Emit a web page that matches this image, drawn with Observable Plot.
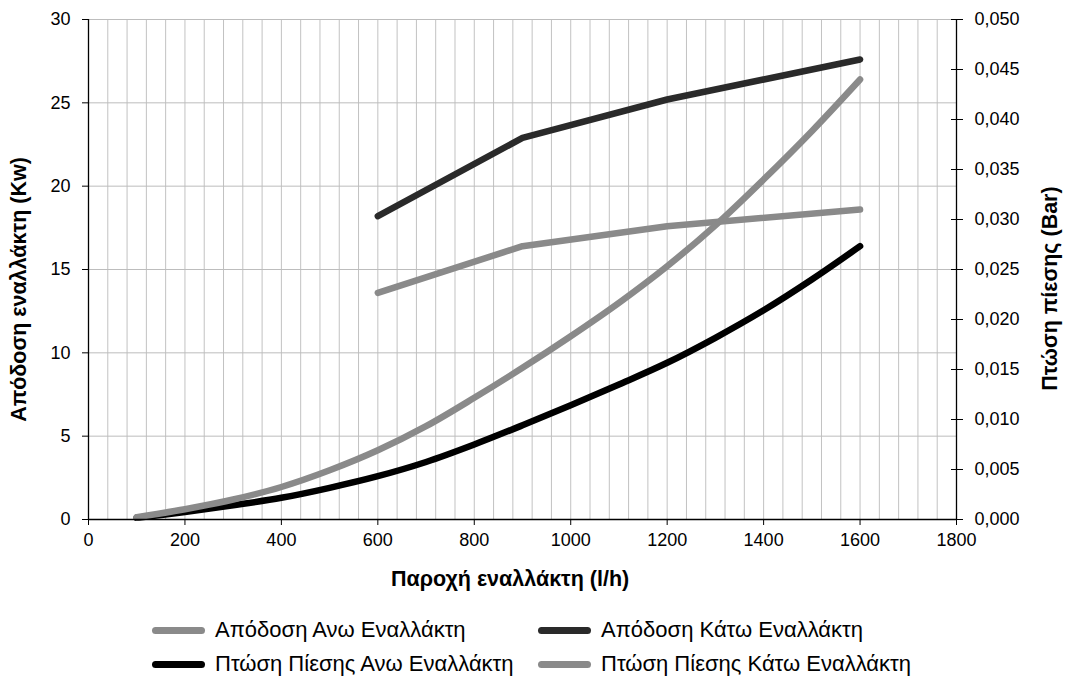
<!DOCTYPE html>
<html>
<head>
<meta charset="utf-8">
<script src="https://cdn.jsdelivr.net/npm/d3@7"></script>
<script src="https://cdn.jsdelivr.net/npm/@observablehq/plot@0.6"></script>
<style>
  body { margin: 0; background: #fff; font-family: "Liberation Sans", Arial, sans-serif; }
  #wrap { position: relative; width: 1069px; height: 681px; overflow: hidden; }
  #wrap svg { position: absolute; left: 0; top: 0; }
  .title { position: absolute; font-weight: bold; font-size: 21.5px; color: #000; white-space: nowrap; }
  .leg { position: absolute; font-size: 22px; color: #000; white-space: nowrap; display: flex; align-items: center; }
  .sw { display: inline-block; width: 53px; height: 7px; border-radius: 4px; margin-right: 10px; }
</style>
</head>
<body>
<div id="wrap"></div>
<script>
// ---- data ----
const seriesNames = [
  "Απόδοση Ανω Εναλλάκτη",
  "Απόδοση Κάτω Εναλλάκτη",
  "Πτώση Πίεσης Ανω Εναλλάκτη",
  "Πτώση Πίεσης Κάτω Εναλλάκτη"
];
const seriesColors = ["#8a8a8a", "#2a2a2a", "#000000", "#8a8a8a"];

// Performance (Kw), left axis
const perfFlow = [600, 900, 1200, 1600];
const perfUpper = [13.6, 16.4, 17.6, 18.6];
const perfLower = [18.2, 22.9, 25.2, 27.6];

// Pressure drop (Bar), right axis
const dpFlow = [100, 200, 300, 400, 500, 600, 700, 800, 900, 1000, 1100, 1200, 1300, 1400, 1500, 1600];
const dpUpper = [0.00017, 0.00075, 0.00142, 0.00217, 0.00317, 0.00433, 0.00575, 0.0075, 0.00942, 0.01142, 0.0135, 0.01567, 0.01817, 0.02092, 0.0240, 0.02733];
const dpLower = [0.00023, 0.00103, 0.0020, 0.00325, 0.00492, 0.00692, 0.00933, 0.01217, 0.01517, 0.01833, 0.02167, 0.02533, 0.02942, 0.0340, 0.03883, 0.0440];

// axes
const xTicks = [0, 200, 400, 600, 800, 1000, 1200, 1400, 1600, 1800];
const leftTicks = [0, 5, 10, 15, 20, 25, 30];
const rightTicks = [0, 0.005, 0.010, 0.015, 0.020, 0.025, 0.030, 0.035, 0.040, 0.045, 0.050];
const xMinorGrid = d3.range(40, 1800, 40);
const xTitle = "Παροχή εναλλάκτη (l/h)";
const yLeftTitle = "Απόδοση εναλλάκτη (Kw)";
const yRightTitle = "Πτώση πίεσης (Bar)";

// ---- build ----
const leftMax = 30, rightMax = 0.05;
const ratio = leftMax / rightMax;

const rows = [];
perfFlow.forEach((x, i) => rows.push({s: 0, x, y: perfUpper[i]}));
perfFlow.forEach((x, i) => rows.push({s: 1, x, y: perfLower[i]}));
dpFlow.forEach((x, i) => rows.push({s: 2, x, y: dpUpper[i] * ratio}));
dpFlow.forEach((x, i) => rows.push({s: 3, x, y: dpLower[i] * ratio}));

const fmtRight = v => d3.format(".3f")(v / ratio).replace(".", ",");

const lineFor = (s, curve) => Plot.line(rows.filter(d => d.s === s), {
  x: "x", y: "y", stroke: seriesColors[s], strokeWidth: 6.5,
  strokeLinecap: "round", strokeLinejoin: "round", curve
});

const chart = Plot.plot({
  width: 1069,
  height: 681,
  marginLeft: 88,
  marginRight: 113,
  marginTop: 19,
  marginBottom: 162,
  style: {fontFamily: "'Liberation Sans', Arial, sans-serif", fontSize: "18px", color: "#000", background: "#fff"},
  x: {domain: [0, 1800]},
  y: {domain: [0, leftMax]},
  marks: [
    Plot.gridX(xMinorGrid, {stroke: "#c2c2c2", strokeOpacity: 1}),
    Plot.gridY(leftTicks.slice(1), {stroke: "#bdbdbd", strokeOpacity: 1}),
    lineFor(0, "linear"),
    lineFor(1, "linear"),
    lineFor(2, "catmull-rom"),
    lineFor(3, "catmull-rom"),
    Plot.ruleX([0], {stroke: "#000", strokeWidth: 1.3}),
    Plot.ruleX([1800], {stroke: "#000", strokeWidth: 1.3}),
    Plot.ruleY([0], {stroke: "#000", strokeWidth: 1.3}),
    Plot.axisX({ticks: xTicks, tickSize: 6, tickPadding: 8, label: null, tickFormat: d => String(d)}),
    Plot.axisY({ticks: leftTicks, tickSize: 6, tickPadding: 12, label: null}),
    Plot.axisY({anchor: "right", ticks: rightTicks.map(v => v * ratio), tickSize: 12, dx: -6, tickPadding: 12, label: null, tickFormat: fmtRight})
  ]
});

const wrap = document.getElementById("wrap");
wrap.appendChild(chart);

function addTitle(text, cx, cy, rot) {
  const d = document.createElement("div");
  d.className = "title";
  d.textContent = text;
  wrap.appendChild(d);
  const w = d.offsetWidth, h = d.offsetHeight;
  d.style.left = (cx - w / 2) + "px";
  d.style.top = (cy - h / 2) + "px";
  if (rot) d.style.transform = "rotate(" + rot + "deg)";
}
addTitle(xTitle, 510, 579, 0);
addTitle(yLeftTitle, 19, 289, -90);
addTitle(yRightTitle, 1050, 288, -90);

const legPos = [[152, 630], [538, 630], [152, 664], [538, 664]];
seriesNames.forEach((name, i) => {
  const d = document.createElement("div");
  d.className = "leg";
  const sw = document.createElement("span");
  sw.className = "sw";
  sw.style.background = seriesColors[i];
  d.appendChild(sw);
  d.appendChild(document.createTextNode(name));
  wrap.appendChild(d);
  d.style.left = legPos[i][0] + "px";
  d.style.top = (legPos[i][1] - d.offsetHeight / 2) + "px";
});
</script>
</body>
</html>
